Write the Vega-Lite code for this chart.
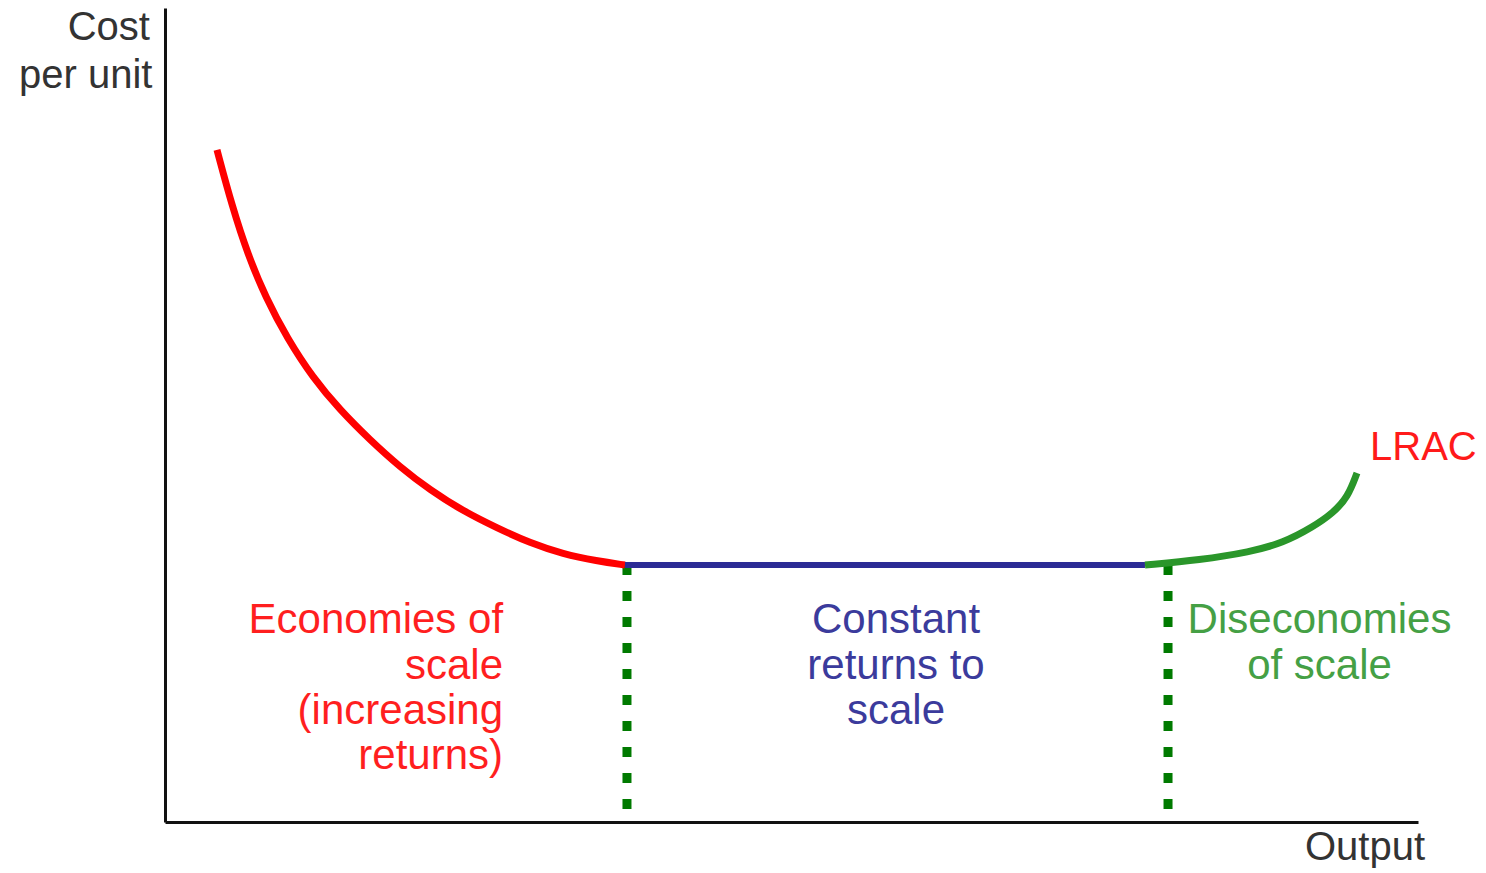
{
  "$schema": "https://vega.github.io/schema/vega-lite/v6.json",
  "autosize": "none",
  "width": 1253,
  "height": 814,
  "padding": {"left": 165, "top": 8, "right": 68, "bottom": 51},
  "background": "white",
  "config": {"view": {"stroke": null}, "text": {"font": "Liberation Sans"}},
  "datasets": {
    "curve": [
      {"seg": "economies", "output": 4.15, "cost": 82.56},
      {"seg": "economies", "output": 5.35, "cost": 75.68},
      {"seg": "economies", "output": 6.62, "cost": 69.66},
      {"seg": "economies", "output": 8.06, "cost": 64.37},
      {"seg": "economies", "output": 9.74, "cost": 59.46},
      {"seg": "economies", "output": 11.81, "cost": 54.55},
      {"seg": "economies", "output": 13.97, "cost": 50.61},
      {"seg": "economies", "output": 16.36, "cost": 46.93},
      {"seg": "economies", "output": 18.75, "cost": 43.61},
      {"seg": "economies", "output": 21.15, "cost": 40.79},
      {"seg": "economies", "output": 23.78, "cost": 38.21},
      {"seg": "economies", "output": 26.5, "cost": 36.12},
      {"seg": "economies", "output": 29.13, "cost": 34.28},
      {"seg": "economies", "output": 31.76, "cost": 32.92},
      {"seg": "economies", "output": 34.48, "cost": 32.06},
      {"seg": "economies", "output": 36.71, "cost": 31.57},
      {"seg": "constant", "output": 36.71, "cost": 31.57},
      {"seg": "constant", "output": 78.21, "cost": 31.57},
      {"seg": "diseconomies", "output": 78.21, "cost": 31.57},
      {"seg": "diseconomies", "output": 82.6, "cost": 32.19},
      {"seg": "diseconomies", "output": 86.59, "cost": 33.17},
      {"seg": "diseconomies", "output": 89.23, "cost": 34.28},
      {"seg": "diseconomies", "output": 91.62, "cost": 36.24},
      {"seg": "diseconomies", "output": 93.22, "cost": 37.96},
      {"seg": "diseconomies", "output": 94.41, "cost": 39.93},
      {"seg": "diseconomies", "output": 95.13, "cost": 42.87}
    ],
    "guides": [
      {"output": 36.87, "top": 31.57, "bottom": 0},
      {"output": 80.05, "top": 31.57, "bottom": 0}
    ],
    "labels": [
      {"grp": "axis", "output": -1.2, "cost": 96.07, "text": "Cost"},
      {"grp": "axis", "output": -1.0, "cost": 90.17, "text": "per unit"},
      {"grp": "axis", "output": 100.56, "cost": -4.67, "text": "Output"},
      {"grp": "lrac", "output": 96.17, "cost": 44.47, "text": "LRAC"},
      {"grp": "economies", "output": 26.98, "cost": 23.22, "text": "Economies of"},
      {"grp": "economies", "output": 26.98, "cost": 17.57, "text": "scale"},
      {"grp": "economies", "output": 26.98, "cost": 12.04, "text": "(increasing"},
      {"grp": "economies", "output": 26.98, "cost": 6.51, "text": "returns)"},
      {"grp": "constant", "output": 58.34, "cost": 23.22, "text": "Constant"},
      {"grp": "constant", "output": 58.34, "cost": 17.57, "text": "returns to"},
      {"grp": "constant", "output": 58.34, "cost": 12.04, "text": "scale"},
      {"grp": "diseconomies", "output": 92.14, "cost": 23.22, "text": "Diseconomies"},
      {"grp": "diseconomies", "output": 92.14, "cost": 17.57, "text": "of scale"}
    ]
  },
  "encoding": {
    "x": {"field": "output", "type": "quantitative", "scale": {"domain": [0, 100], "nice": false, "zero": false},
      "axis": {"title": null, "labels": false, "ticks": false, "grid": false, "domainColor": "#111111", "domainWidth": 3}},
    "y": {"field": "cost", "type": "quantitative", "scale": {"domain": [0, 100], "nice": false, "zero": false},
      "axis": {"title": null, "labels": false, "ticks": false, "grid": false, "domainColor": "#111111", "domainWidth": 3}}
  },
  "layer": [
    {
      "data": {"name": "guides"},
      "mark": {"type": "rule", "color": "#007a00", "strokeWidth": 9, "strokeDash": [10, 16]},
      "encoding": {"y": {"field": "top", "type": "quantitative"}, "y2": {"field": "bottom"}}
    },
    {
      "data": {"name": "curve"},
      "transform": [{"filter": "datum.seg === 'economies'"}],
      "mark": {"type": "line", "color": "#ff0000", "strokeWidth": 7, "interpolate": "basis", "strokeCap": "butt"},
      "encoding": {}
    },
    {
      "data": {"name": "curve"},
      "transform": [{"filter": "datum.seg === 'constant'"}],
      "mark": {"type": "line", "color": "#2b2b95", "strokeWidth": 6, "strokeCap": "butt"},
      "encoding": {}
    },
    {
      "data": {"name": "curve"},
      "transform": [{"filter": "datum.seg === 'diseconomies'"}],
      "mark": {"type": "line", "color": "#2a962a", "strokeWidth": 7, "interpolate": "basis", "strokeCap": "butt"},
      "encoding": {}
    },
    {
      "data": {"name": "labels"},
      "transform": [{"filter": "datum.grp === 'axis'"}],
      "mark": {"type": "text", "align": "right", "baseline": "alphabetic", "fontSize": 40, "color": "#333333"},
      "encoding": {"text": {"field": "text"}}
    },
    {
      "data": {"name": "labels"},
      "transform": [{"filter": "datum.grp === 'lrac'"}],
      "mark": {"type": "text", "align": "left", "baseline": "alphabetic", "fontSize": 40, "color": "#ff1a1a"},
      "encoding": {"text": {"field": "text"}}
    },
    {
      "data": {"name": "labels"},
      "transform": [{"filter": "datum.grp === 'economies'"}],
      "mark": {"type": "text", "align": "right", "baseline": "alphabetic", "fontSize": 42, "color": "#ff1f1f"},
      "encoding": {"text": {"field": "text"}}
    },
    {
      "data": {"name": "labels"},
      "transform": [{"filter": "datum.grp === 'constant'"}],
      "mark": {"type": "text", "align": "center", "baseline": "alphabetic", "fontSize": 42, "color": "#3b3b9c"},
      "encoding": {"text": {"field": "text"}}
    },
    {
      "data": {"name": "labels"},
      "transform": [{"filter": "datum.grp === 'diseconomies'"}],
      "mark": {"type": "text", "align": "center", "baseline": "alphabetic", "fontSize": 42, "color": "#45a045"},
      "encoding": {"text": {"field": "text"}}
    }
  ]
}
